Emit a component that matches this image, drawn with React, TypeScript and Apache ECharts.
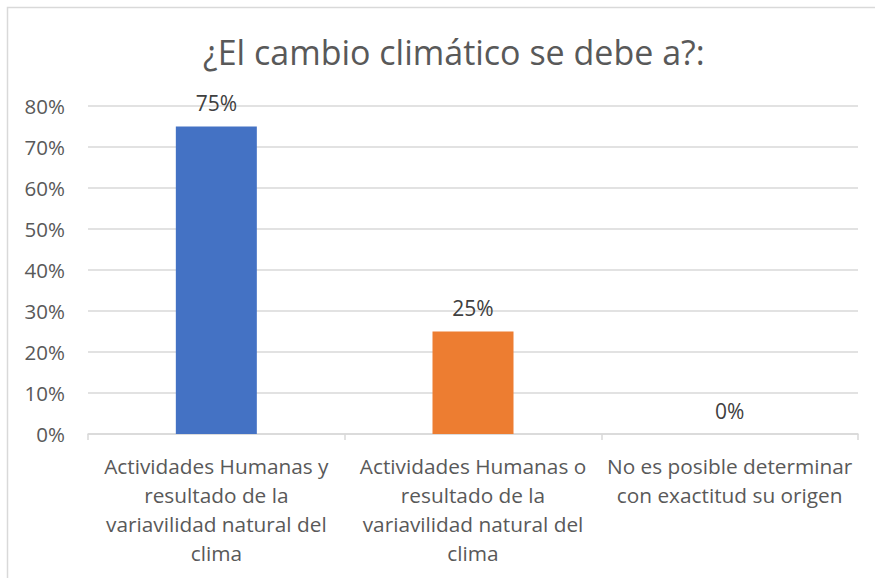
import React, { useEffect, useRef } from "react";
import * as echarts from "echarts";

const title = "¿El cambio climático se debe a?:";
const categories = [
  "Actividades Humanas y\nresultado de la\nvariavilidad natural del\nclima",
  "Actividades Humanas o\nresultado de la\nvariavilidad natural del\nclima",
  "No es posible determinar\ncon exactitud su origen",
];
const values = [75, 25, 0];
const colors = ["#4472C4", "#ED7D31", "#A5A5A5"];

export default function App() {
  const ref = useRef<HTMLDivElement>(null);
  useEffect(() => {
    if (!ref.current) return;
    const chart = echarts.init(ref.current, null, { renderer: "svg" });
    const font = "'Open Sans', 'Noto Sans', sans-serif";
    chart.setOption({
      animation: false,
      textStyle: { fontFamily: font },
      graphic: [
        {
          type: "rect",
          shape: { x: 7.5, y: 7.5, width: 900, height: 700 },
          style: { fill: "none", stroke: "#d9d9d9", lineWidth: 1.5 },
          silent: true,
        },
      ],
      title: {
        text: title,
        left: 198,
        top: 30,
        textStyle: { fontFamily: font, fontSize: 34, fontWeight: "normal", color: "#595959" },
      },
      grid: { left: 88, right: 17, top: 106, bottom: 144, containLabel: false },
      xAxis: {
        type: "category",
        data: categories,
        axisLine: { lineStyle: { color: "#d9d9d9", width: 1.5 } },
        axisTick: { show: true, length: 6, lineStyle: { color: "#d9d9d9", width: 1.5 } },
        axisLabel: {
          color: "#595959",
          fontSize: 20.8,
          fontFamily: font,
          lineHeight: 29,
          margin: 17.5,
          interval: 0,
        },
      },
      yAxis: {
        type: "value",
        min: 0,
        max: 80,
        interval: 10,
        axisLine: { show: false },
        axisTick: { show: false },
        splitLine: { lineStyle: { color: "#d9d9d9", width: 1.5 } },
        axisLabel: {
          formatter: "{value}%",
          color: "#595959",
          fontSize: 20.5,
          fontFamily: font,
          margin: 23,
        },
      },
      series: [
        {
          type: "bar",
          barWidth: 81,
          data: values.map((v, i) => ({ value: v, itemStyle: { color: colors[i] } })),
          label: {
            show: true,
            position: "top",
            distance: 13,
            formatter: "{c}%",
            color: "#404040",
            fontSize: 21,
            fontFamily: font,
          },
        },
      ],
    });
    return () => chart.dispose();
  }, []);
  return <div ref={ref} style={{ width: 875, height: 578, position: "absolute", left: 0, top: 0, background: "#fff" }} />;
}
